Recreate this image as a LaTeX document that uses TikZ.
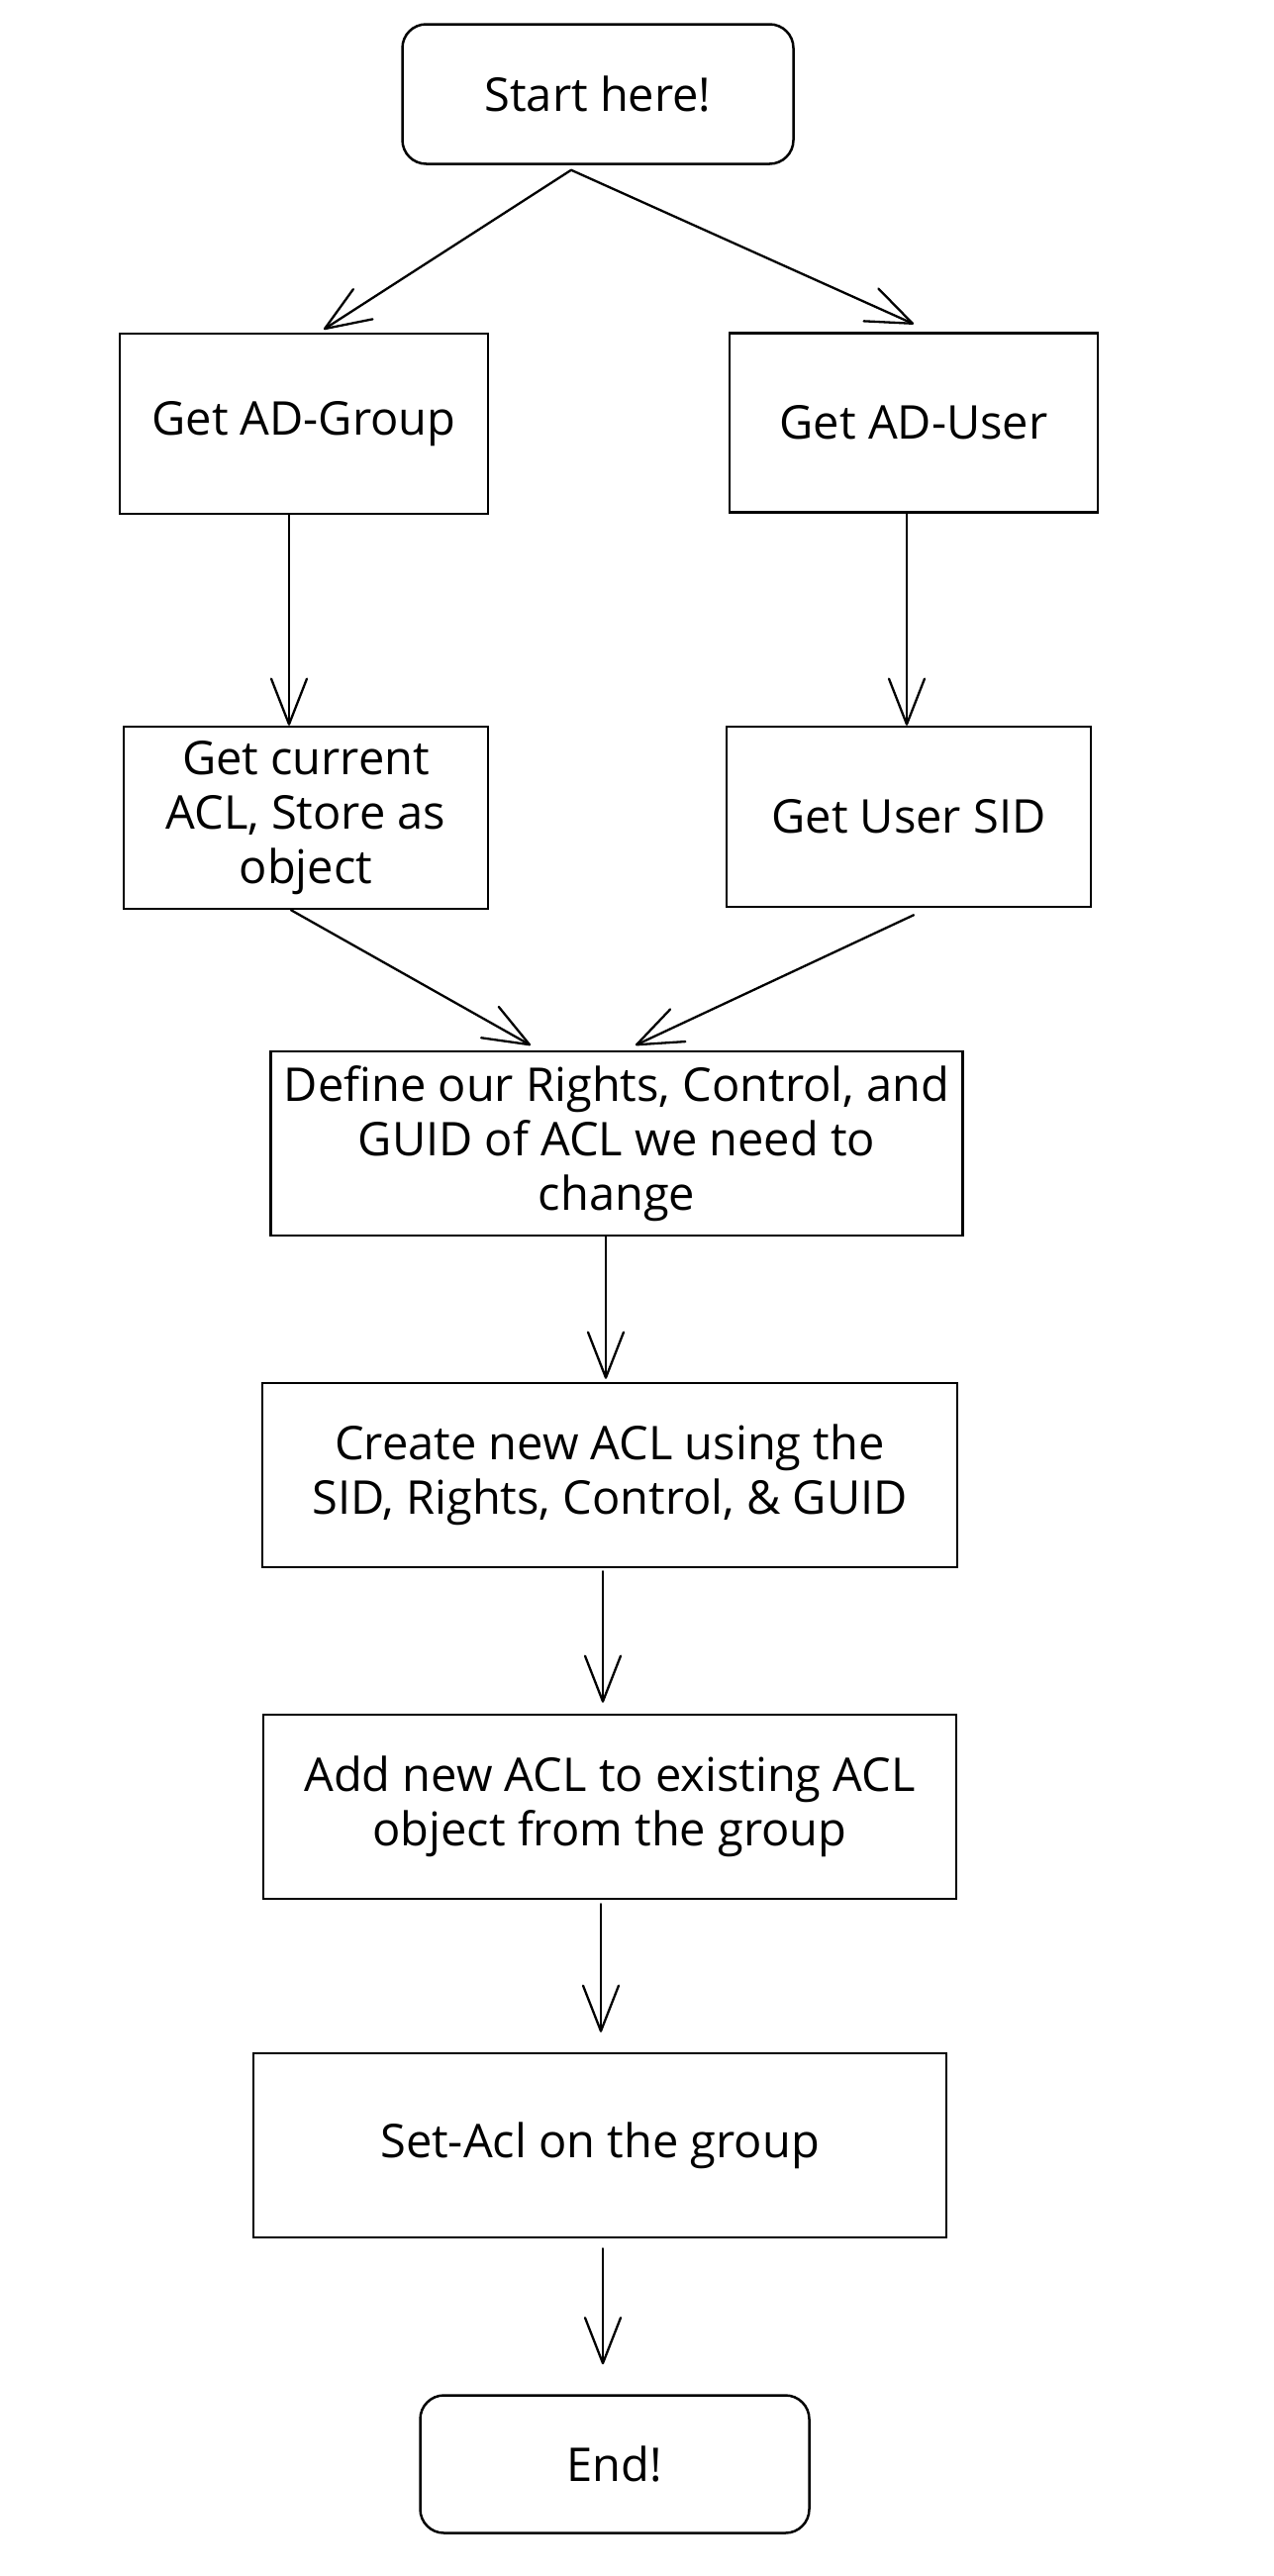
\documentclass[tikz,border=0pt]{standalone}
\usepackage{fontspec}
\setmainfont{Open Sans}
\usepackage{tikz}
\usetikzlibrary{arrows.meta,calc,positioning}

\begin{document}
\begin{tikzpicture}[x=1pt,y=-1pt,
  box/.style={draw,line width=2.5pt,align=center,inner sep=0pt,
    font=\fontsize{47}{55}\selectfont},
  term/.style={box,rounded corners=24pt},
  flow/.style={line width=2.3pt,line cap=round,line join=round,
    -{Straight Barb[length=46pt,width=36pt,line cap=round,line join=round]}}]
\useasboundingbox (0,0) rectangle (1286,2602);

% Terminals
\node[term,minimum width=395pt,minimum height=141pt] (start) at (604,95) {Start here!};
\node[term,minimum width=393pt,minimum height=139pt] (end) at (621,2489) {End!};

% Two branches
\node[box,minimum width=372pt,minimum height=182pt] (adgroup) at (307,428) {Get AD-Group};
\node[box,minimum width=372pt,minimum height=181pt] (aduser) at (923,427) {Get AD-User};
\node[box,minimum width=368pt,minimum height=184pt] (acl) at (309,826) {Get current\\ACL, Store as\\object};
\node[box,minimum width=368pt,minimum height=182pt] (sid) at (918,825) {Get User SID};

% Main column
\node[box,minimum width=699pt,minimum height=186pt] (define) at (623,1155)
  {Define our Rights, Control, and\\GUID of ACL we need to\\change};
\node[box,minimum width=702pt,minimum height=186pt] (create) at (616,1490)
  {Create new ACL using the\\SID, Rights, Control, \& GUID};
\node[box,minimum width=700pt,minimum height=186pt] (add) at (616,1825)
  {Add new ACL to existing ACL\\object from the group};
\node[box,minimum width=700pt,minimum height=186pt] (setacl) at (606,2167) {Set-Acl on the group};

% Arrows
\draw[flow] ([xshift=-27pt,yshift=-5pt]start.south) -- ([xshift=20pt,yshift=3pt]adgroup.north);
\draw[flow] ([xshift=-27pt,yshift=-5pt]start.south) -- ([yshift=8pt]aduser.north);
\draw[flow] ([xshift=-15pt]adgroup.south) -- ([xshift=-17pt]acl.north);
\draw[flow] ([xshift=-7pt]aduser.south) -- ([xshift=-2pt]sid.north);
\draw[flow] ([xshift=-15pt]acl.south) -- ([xshift=-87pt,yshift=5pt]define.north);
\draw[flow] ([xshift=5pt,yshift=-7pt]sid.south) -- ([xshift=19pt,yshift=5pt]define.north);
\draw[flow] ([xshift=-11pt]define.south) -- ([xshift=-4pt,yshift=3pt]create.north);
\draw[flow] ([xshift=-7pt,yshift=-3pt]create.south) -- ([xshift=-7pt,yshift=11pt]add.north);
\draw[flow] ([xshift=-9pt,yshift=-4pt]add.south) -- ([xshift=1pt,yshift=20pt]setacl.north);
\draw[flow] ([xshift=3pt,yshift=-10pt]setacl.south) -- ([xshift=-12pt,yshift=30pt]end.north);
\end{tikzpicture}
\end{document}
